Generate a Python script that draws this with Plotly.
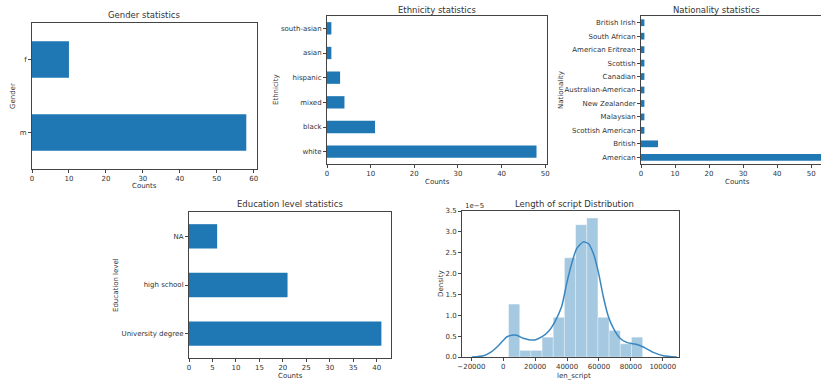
import plotly.graph_objects as go

W, H = 821, 383

# ---------------- data ----------------
gender_cats = ["m", "f"]
gender_vals = [58, 10]

eth_cats = ["white", "black", "mixed", "hispanic", "asian", "south-asian"]
eth_vals = [48, 11, 4, 3, 1, 1]

nat_cats = ["American", "British", "Scottish American", "Malaysian", "New Zealander",
            "Australian-American", "Canadian", "Scottish", "American Eritrean",
            "South African", "British Irish"]
nat_vals = [54, 5, 1, 1, 1, 1, 1, 1, 1, 1, 1]

edu_cats = ["University degree", "high school", "NA"]
edu_vals = [41, 21, 6]

hist_start = 3300
hist_width = 7008
hist_counts = [8, 1, 1, 3, 6, 15, 20, 21, 6, 4, 2, 3]

kde_x = [-19600, -12400, -7300, -3100, 0, 2100, 6300, 8400, 12500, 16700, 19900,
         24100, 28300, 32400, 36600, 39800, 42900, 46000, 50200, 53300, 56500,
         59600, 62700, 65900, 69000, 73200, 77400, 82600, 87800, 94100, 100400, 108800]
kde_y = [0.0, 0.03, 0.13, 0.27, 0.40, 0.48, 0.525, 0.52, 0.45, 0.41, 0.41,
         0.48, 0.61, 0.85, 1.21, 1.77, 2.24, 2.60, 2.76, 2.72, 2.48,
         2.04, 1.45, 0.97, 0.69, 0.45, 0.35, 0.31, 0.24, 0.11, 0.03, 0.0]

hist_xticks = [-20000, 0, 20000, 40000, 60000, 80000, 100000]
hist_yticks = [0.0, 0.5, 1.0, 1.5, 2.0, 2.5, 3.0, 3.5]

# ---------------- helpers ----------------
BLUE = "#1f77b4"
TXT = "#333333"
FONT = "DejaVu Sans"


def fx(px):
    return px / W


def fy(py):
    return 1 - py / H


def label(text, px, py, size=7, angle=0, xanchor="center"):
    return dict(text=text, x=fx(px), y=fy(py), xref="paper", yref="paper",
                showarrow=False, textangle=angle, xanchor=xanchor, yanchor="middle",
                font=dict(size=size, color=TXT, family=FONT))


fig = go.Figure()

panels = [
    ("Gender statistics", gender_cats, gender_vals, (32, 257), (23, 169), [0, 60.9], 10, "Gender"),
    ("Ethnicity statistics", eth_cats, eth_vals, (327, 547), (16, 164), [0, 50.4], 10, "Ethnicity"),
    ("Nationality statistics", nat_cats, nat_vals, (641, 821), (16, 164), [0, 52.9], 10, "Nationality"),
    ("Education level statistics", edu_cats, edu_vals, (189, 391), (212, 358), [0, 43.05], 5, "Education level"),
]

layout = dict(
    width=W, height=H, margin=dict(l=0, r=0, t=0, b=0, autoexpand=False),
    paper_bgcolor="white", plot_bgcolor="white", showlegend=False,
    font=dict(family=FONT, size=7, color=TXT),
)

annotations = []
axis_common = dict(showline=True, linecolor="#444444", linewidth=1, mirror=True,
                   ticks="outside", ticklen=3, tickcolor="#444444", showgrid=False,
                   zeroline=False, automargin=False,
                   tickfont=dict(family=FONT, size=7, color=TXT))

ylabel_x = {0: 13, 1: 276, 2: 561, 3: 116}
xlabel_y = {0: 186, 1: 182, 2: 182, 3: 376}
title_y = {0: 15, 1: 10, 2: 10, 3: 204}
title_x = {0: 144, 1: 437, 2: 716, 3: 290}
xlabel_x = {0: 144, 1: 437, 2: 737, 3: 290}

for i, (title, cats, vals, xd, yd, xr, dt, ylab) in enumerate(panels):
    n = i + 1
    xa = "x" if n == 1 else f"x{n}"
    ya = "y" if n == 1 else f"y{n}"
    fig.add_trace(go.Bar(x=vals, y=cats, orientation="h", width=0.5,
                         marker=dict(color=BLUE, line=dict(width=0)),
                         xaxis=xa, yaxis=ya, hoverinfo="x+y"))
    xkey = "xaxis" if n == 1 else f"xaxis{n}"
    ykey = "yaxis" if n == 1 else f"yaxis{n}"
    layout[xkey] = dict(axis_common, domain=[fx(xd[0]), fx(xd[1])], range=xr,
                        dtick=dt, tick0=0, anchor=ya)
    layout[ykey] = dict(axis_common, domain=[fy(yd[1]), fy(yd[0])],
                        type="category", categoryorder="array", categoryarray=cats,
                        range=[-0.5, len(cats) - 0.5], anchor=xa)
    annotations.append(label(title, title_x[i], title_y[i], size=8.5))
    annotations.append(label("Counts", xlabel_x[i], xlabel_y[i]))
    annotations.append(label(ylab, ylabel_x[i], (yd[0] + yd[1]) / 2, angle=-90))

# ---------------- histogram panel ----------------
n_total = sum(hist_counts)
centers = [hist_start + hist_width * (k + 0.5) for k in range(len(hist_counts))]
dens = [c / (n_total * hist_width) for c in hist_counts]
fig.add_trace(go.Bar(x=centers, y=dens, width=[hist_width] * len(centers),
                     marker=dict(color="rgba(31,119,180,0.4)",
                                 line=dict(width=0.6, color="rgba(255,255,255,0.6)")),
                     xaxis="x5", yaxis="y5", hoverinfo="x+y"))
fig.add_trace(go.Scatter(x=kde_x, y=[v * 1e-5 for v in kde_y], mode="lines",
                         line=dict(color="#3a87c0", width=1.5, shape="spline", smoothing=0.6),
                         xaxis="x5", yaxis="y5", hoverinfo="skip"))

layout["xaxis5"] = dict(axis_common, domain=[fx(462), fx(679)], range=[-25900, 110200],
                        tickvals=hist_xticks,
                        ticktext=[("\u2212" + str(-v)) if v < 0 else str(v) for v in hist_xticks],
                        anchor="y5")
layout["yaxis5"] = dict(axis_common, domain=[fy(357), fy(211)], range=[0, 3.5e-5],
                        tickvals=[v * 1e-5 for v in hist_yticks],
                        ticktext=[f"{v:.1f}" for v in hist_yticks], anchor="x5")

annotations.append(label("Length of script Distribution", 574, 204, size=8.5))
annotations.append(label("len_script", 574, 376))
annotations.append(label("Density", 441, 284, angle=-90))
annotations.append(label("1e\u22125", 463, 206, xanchor="left"))

layout["annotations"] = annotations
fig.update_layout(**layout)
fig.write_html("out.html",
               config={"displayModeBar": False},
               post_script="document.body.style.margin='0';document.body.style.overflow='hidden';")
